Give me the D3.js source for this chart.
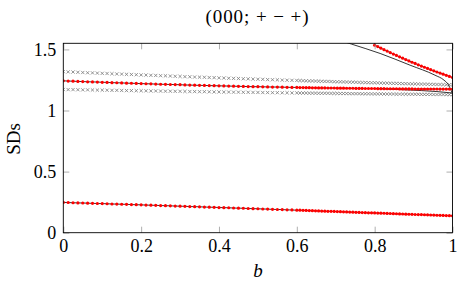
<!DOCTYPE html>
<html>
<head>
<meta charset="utf-8">
<script src="https://cdn.jsdelivr.net/npm/d3@7"></script>
<style>
body { margin: 0; background: #fff; }
text { font-family: "Liberation Serif", serif; fill: #000; }
</style>
</head>
<body>
<svg id="chart" width="464" height="285"></svg>
<script>
// sample points of b (coarse up to 0.6, finer after)
var bVals = [
0,0.0125,0.025,0.0375,0.05,0.0625,0.075,0.0875,0.1,0.1125,
0.125,0.1375,0.15,0.1625,0.175,0.1875,0.2,0.2125,0.225,0.2375,
0.25,0.2625,0.275,0.2875,0.3,0.3125,0.325,0.3375,0.35,0.3625,
0.375,0.3875,0.4,0.4125,0.425,0.4375,0.45,0.4625,0.475,0.4875,
0.5,0.5125,0.525,0.5375,0.55,0.5625,0.575,0.5875,0.6,
0.608,0.616,0.624,0.632,0.64,0.648,0.656,0.664,0.672,0.68,
0.688,0.696,0.704,0.712,0.72,0.728,0.736,0.744,0.752,0.76,
0.768,0.776,0.784,0.792,0.8,0.808,0.816,0.824,0.832,0.84,
0.848,0.856,0.864,0.872,0.88,0.888,0.896,0.904,0.912,0.92,
0.928,0.936,0.944,0.952,0.96,0.968,0.976,0.984,0.992,1];

var grayUpper = [
1.318,1.316,1.315,1.313,1.311,1.309,1.308,1.306,1.304,1.303,
1.301,1.299,1.298,1.296,1.295,1.293,1.291,1.290,1.288,1.287,
1.285,1.284,1.282,1.280,1.279,1.277,1.276,1.274,1.273,1.272,
1.270,1.269,1.267,1.266,1.264,1.263,1.262,1.260,1.259,1.257,
1.256,1.255,1.253,1.252,1.251,1.249,1.248,1.247,1.246,
1.245,1.244,1.243,1.242,1.242,1.241,1.240,1.239,1.238,1.238,
1.237,1.236,1.235,1.235,1.234,1.233,1.232,1.232,1.231,1.230,
1.229,1.229,1.228,1.227,1.227,1.226,1.225,1.224,1.224,1.223,
1.222,1.222,1.221,1.220,1.220,1.219,1.218,1.218,1.217,1.216,
1.216,1.215,1.214,1.214,1.213,1.213,1.212,1.211,1.211,1.210];

var grayLower = [
1.172,1.171,1.171,1.170,1.169,1.169,1.168,1.167,1.167,1.166,
1.165,1.165,1.164,1.163,1.163,1.162,1.162,1.161,1.160,1.160,
1.159,1.158,1.158,1.157,1.157,1.156,1.155,1.155,1.154,1.154,
1.153,1.152,1.152,1.151,1.151,1.150,1.150,1.149,1.149,1.148,
1.148,1.147,1.147,1.146,1.146,1.145,1.145,1.144,1.144,
1.143,1.143,1.143,1.142,1.142,1.142,1.141,1.141,1.141,1.141,
1.140,1.140,1.140,1.139,1.139,1.139,1.138,1.138,1.138,1.138,
1.137,1.137,1.137,1.136,1.136,1.136,1.136,1.135,1.135,1.135,
1.135,1.134,1.134,1.134,1.134,1.133,1.133,1.133,1.133,1.132,
1.132,1.132,1.132,1.131,1.131,1.131,1.131,1.130,1.130,1.130];

var redUpper = [
1.243,1.241,1.240,1.238,1.237,1.235,1.234,1.233,1.231,1.230,
1.228,1.227,1.226,1.224,1.223,1.222,1.220,1.219,1.218,1.216,
1.215,1.214,1.213,1.212,1.211,1.209,1.208,1.207,1.206,1.205,
1.204,1.203,1.202,1.201,1.200,1.199,1.198,1.197,1.196,1.195,
1.195,1.194,1.193,1.192,1.192,1.191,1.190,1.189,1.189,
1.188,1.188,1.187,1.187,1.186,1.186,1.185,1.185,1.185,1.184,
1.184,1.184,1.183,1.183,1.183,1.182,1.182,1.182,1.181,1.181,
1.181,1.180,1.180,1.180,1.180,1.179,1.179,1.179,1.178,1.178,
1.178,1.178,1.177,1.177,1.177,1.177,1.177,1.176,1.176,1.176,
1.176,1.176,1.176,1.176,1.176,1.175,1.175,1.175,1.175,1.175];

var redLower = [
0.248,0.247,0.245,0.244,0.243,0.242,0.240,0.239,0.238,0.237,
0.235,0.234,0.233,0.232,0.230,0.229,0.228,0.226,0.225,0.224,
0.222,0.221,0.220,0.218,0.217,0.216,0.214,0.213,0.212,0.210,
0.209,0.208,0.206,0.205,0.204,0.202,0.201,0.200,0.198,0.197,
0.196,0.194,0.193,0.191,0.190,0.189,0.187,0.186,0.184,
0.184,0.183,0.182,0.181,0.180,0.179,0.178,0.177,0.176,0.175,
0.175,0.174,0.173,0.172,0.171,0.170,0.169,0.168,0.167,0.166,
0.165,0.164,0.163,0.163,0.162,0.161,0.160,0.159,0.158,0.157,
0.156,0.155,0.154,0.153,0.152,0.151,0.150,0.149,0.148,0.148,
0.147,0.146,0.145,0.144,0.143,0.142,0.141,0.140,0.139,0.138];

// steep branch, only exists for b >= 0.8
var bSteep = [0.8,0.808,0.816,0.824,0.832,0.84,0.848,0.856,0.864,0.872,0.88,0.888,0.896,
  0.904,0.912,0.92,0.928,0.936,0.944,0.952,0.96,0.968,0.976,0.984,0.992,1];
var redSteep = [1.535,1.523,1.510,1.498,1.486,1.474,1.462,1.451,1.439,1.428,1.417,1.406,1.395,
  1.385,1.374,1.364,1.354,1.344,1.334,1.325,1.315,1.306,1.297,1.288,1.279,1.270];

// black reference curves
var blackSteepB = [0.70,0.741,0.814,0.891,0.955,0.978,0.99,0.996,1];
var blackSteepV = [1.585,1.543,1.467,1.371,1.289,1.249,1.208,1.167,1.14];
var blackLowB = [0.8,0.86,0.92,0.96,1];
var blackLowV = [1.1795,1.172,1.163,1.155,1.143];
var blackTopB = [0.799,0.8];
var blackTopV = [1.6,1.535];

var xTicks = [0,0.2,0.4,0.6,0.8,1];
var yTicks = [0,0.5,1,1.5];

var svg = d3.select("#chart");
var pLeft = 63.3, pRight = 452.5, pTop = 43.3, pBottom = 232.7;

var x = d3.scaleLinear().domain([0,1]).range([pLeft,pRight]);
var y = d3.scaleLinear().domain([0,1.55]).range([pBottom,pTop]);

svg.append("rect").attr("width",464).attr("height",285).attr("fill","#fff");

svg.append("clipPath").attr("id","clip")
  .append("rect").attr("x",pLeft).attr("y",pTop).attr("width",pRight-pLeft).attr("height",pBottom-pTop);

function zip(bs, vs){ return bs.map(function(b,i){ return {b:b, v:vs[i]}; }); }

var plot = svg.append("g").attr("clip-path","url(#clip)");

// gray cross markers
var cross = "M-1.6,-1.6L1.6,1.6M-1.6,1.6L1.6,-1.6";
[grayUpper, grayLower].forEach(function(vs){
  plot.append("g").selectAll("path")
    .data(zip(bVals, vs))
    .enter().append("path")
    .attr("d", cross)
    .attr("transform", function(d){ return "translate("+x(d.b)+","+y(d.v)+")"; })
    .attr("stroke","#7a7a7a").attr("stroke-width",0.8).attr("fill","none");
});

var line = d3.line().x(function(d){ return x(d.b); }).y(function(d){ return y(d.v); });
var smooth = d3.line().curve(d3.curveMonotoneX).x(function(d){ return x(d.b); }).y(function(d){ return y(d.v); });

[zip(bVals, redUpper), zip(bVals, redLower), zip(bSteep, redSteep)].forEach(function(pts){
  plot.append("path").datum(pts).attr("d", line)
    .attr("fill","none").attr("stroke","#000").attr("stroke-width",0.8);
});
[zip(blackSteepB, blackSteepV), zip(blackLowB, blackLowV), zip(blackTopB, blackTopV)].forEach(function(pts){
  plot.append("path").datum(pts).attr("d", smooth)
    .attr("fill","none").attr("stroke","#000").attr("stroke-width",0.8);
});

// red dot markers
[zip(bVals, redUpper), zip(bVals, redLower), zip(bSteep, redSteep)].forEach(function(pts){
  plot.append("g").selectAll("circle")
    .data(pts)
    .enter().append("circle")
    .attr("cx", function(d){ return x(d.b); })
    .attr("cy", function(d){ return y(d.v); })
    .attr("r", 1.6)
    .attr("fill","#ff0000");
});

// axes, ticks pointing inwards on all four sides
function styleAxis(g){
  g.select(".domain").remove();
  g.attr("font-family","Liberation Serif, serif").attr("font-size",18);
  g.selectAll(".tick line").attr("stroke","#9a9a9a").attr("stroke-width",0.8);
  g.selectAll(".tick text").attr("fill","#000");
}
svg.append("g").attr("transform","translate(0,"+pBottom+")")
  .call(d3.axisBottom(x).tickValues(xTicks).tickSize(-6).tickPadding(7).tickFormat(function(d){ return d+""; }))
  .call(styleAxis);
svg.append("g").attr("transform","translate(0,"+pTop+")")
  .call(d3.axisTop(x).tickValues(xTicks).tickSize(-6).tickFormat(""))
  .call(styleAxis);
svg.append("g").attr("transform","translate("+pLeft+",0)")
  .call(d3.axisLeft(y).tickValues(yTicks).tickSize(-6).tickPadding(7).tickFormat(function(d){ return d+""; }))
  .call(styleAxis);
svg.append("g").attr("transform","translate("+pRight+",0)")
  .call(d3.axisRight(y).tickValues(yTicks).tickSize(-6).tickFormat(""))
  .call(styleAxis);

svg.append("rect").attr("x",pLeft).attr("y",pTop).attr("width",pRight-pLeft).attr("height",pBottom-pTop)
  .attr("fill","none").attr("stroke","#000").attr("stroke-width",0.9);

// titles
svg.append("text").attr("x",257).attr("y",23).attr("text-anchor","middle")
  .attr("font-size",19).attr("textLength",103).attr("lengthAdjust","spacing")
  .text("(000; + \u2212 +)");
svg.append("text").attr("transform","translate(20,139) rotate(-90)").attr("text-anchor","middle")
  .attr("font-size",19).text("SDs");
svg.append("text").attr("x",258).attr("y",277).attr("text-anchor","middle")
  .attr("font-size",19).attr("font-style","italic").text("b");
</script>
</body>
</html>
